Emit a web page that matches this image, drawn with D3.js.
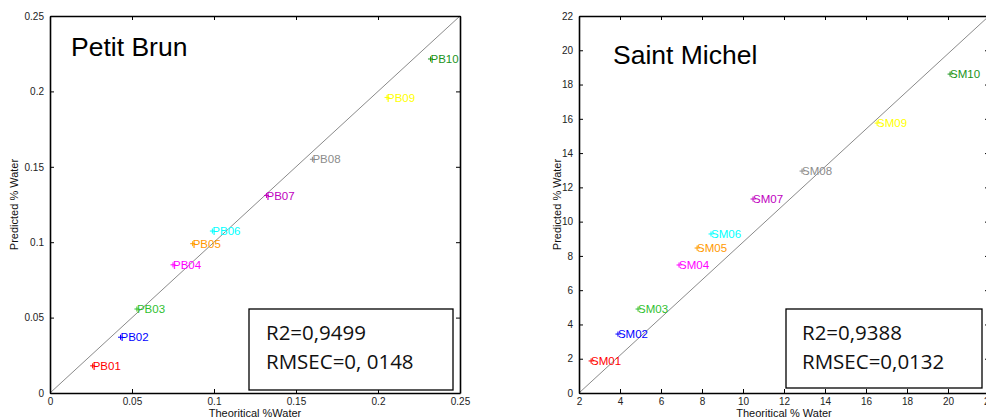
<!DOCTYPE html>
<html><head><meta charset="utf-8">
<script src="https://cdn.jsdelivr.net/npm/d3@7"></script>
<style>
body{margin:0;background:#fff;overflow:hidden}
svg{display:block}
text{font-family:"Liberation Sans",Arial,sans-serif}
</style></head><body>
<svg id="c" width="986" height="419"></svg>
<script>
// ---- Data ----
const pbLabels = ["PB01","PB02","PB03","PB04","PB05","PB06","PB07","PB08","PB09","PB10"];
const pbTheoretical = [0.026,0.043,0.053,0.075,0.087,0.099,0.132,0.160,0.2055,0.232];
const pbPredicted   = [0.018,0.037,0.0557,0.085,0.099,0.1074,0.131,0.155,0.196,0.2215];
const pbXTicks = [0,0.05,0.1,0.15,0.2,0.25];
const pbYTicks = [0,0.05,0.1,0.15,0.2,0.25];

const smLabels = ["SM01","SM02","SM03","SM04","SM05","SM06","SM07","SM08","SM09","SM10"];
const smTheoretical = [2.59,3.90,4.88,6.88,7.76,8.44,10.49,12.88,16.54,20.1];
const smPredicted   = [1.87,3.44,4.90,7.47,8.46,9.28,11.32,12.95,15.75,18.61];
const smXTicks = [2,4,6,8,10,12,14,16,18,20,22];
const smYTicks = [0,2,4,6,8,10,12,14,16,18,20,22];

const pointColors = ["#ff0000","#0000ff","#2fbf2f","#ff00ff","#ff9900","#00ffff","#c000c0","#8c8c8c","#ffff00","#1a931a"];

const svg = d3.select("#c");

function panel(o){
  const g = svg.append("g");
  const x = d3.scaleLinear().domain(o.xDomain).range([o.left,o.right]);
  const y = d3.scaleLinear().domain(o.yDomain).range([o.bottom,o.top]);
  const fmt = o.fmt;
  // diagonal
  g.append("line")
    .attr("x1",x(o.xDomain[0])).attr("y1",y(o.yDomain[0]))
    .attr("x2",x(o.xDomain[1])).attr("y2",y(o.yDomain[1]))
    .attr("stroke","#8a8a8a").attr("stroke-width",1);
  // axes
  const ax = (gen, tr) => {
    const a = g.append("g").attr("transform",tr).call(gen);
    a.select(".domain").attr("stroke","#000").attr("stroke-width",1.6);
    a.selectAll(".tick line").attr("stroke","#000");
    a.selectAll("text").attr("fill","#222").style("font-size","10px");
    return a;
  };
  ax(d3.axisBottom(x).tickValues(o.xTicks).tickSizeInner(-4).tickSizeOuter(0).tickPadding(5).tickFormat(fmt),
     `translate(0,${o.bottom})`);
  ax(d3.axisLeft(y).tickValues(o.yTicks).tickSizeInner(-4).tickSizeOuter(0).tickPadding(6).tickFormat(fmt),
     `translate(${o.left},0)`);
  ax(d3.axisTop(x).tickValues(o.xTicks).tickSizeInner(-4).tickSizeOuter(0).tickFormat(""),
     `translate(0,${o.top})`);
  ax(d3.axisRight(y).tickValues(o.yTicks).tickSizeInner(-4).tickSizeOuter(0).tickFormat(""),
     `translate(${o.right},0)`);
  // axis labels
  g.append("text").attr("x",(o.left+o.right)/2).attr("y",417).attr("text-anchor","middle")
    .style("font-size","11px").attr("fill","#111").text(o.xLabel);
  g.append("text").attr("transform",`translate(${o.yLabelX},${(o.top+o.bottom)/2}) rotate(-90)`)
    .attr("text-anchor","middle").style("font-size","11px").attr("fill","#111").text(o.yLabel);
  // title
  g.append("text").attr("x",o.titleX).attr("y",o.titleY).style("font-size","26.5px").attr("fill","#000").text(o.title);
  // points
  const pts = g.selectAll("g.pt").data(o.labels.map((l,i)=>({l,xv:o.xs[i],yv:o.ys[i],c:pointColors[i]})))
    .enter().append("g").attr("transform",d=>`translate(${x(d.xv)},${y(d.yv)})`);
  pts.append("path").attr("d","M-2.5,0H2.5M0,-2.5V2.5").attr("stroke",d=>d.c).attr("stroke-width",1);
  pts.append("text").attr("x",0).attr("dy","0.36em").style("font-size","11.5px").attr("fill",d=>d.c).text(d=>d.l);
  // stats box
  g.append("rect").attr("x",o.box[0]).attr("y",o.box[1]).attr("width",o.box[2]).attr("height",o.box[3])
    .attr("fill","#fff").attr("stroke","#000").attr("stroke-width",1.3);
  o.stats.forEach((s,i)=>{
    g.append("text").attr("x",o.box[0]+o.textDx).attr("y",340+i*28.5)
      .style("font-family","'Open Sans',Lato,sans-serif").style("font-size","20.5px").attr("fill","#111").text(s);
  });
}

panel({xDomain:[0,0.25],yDomain:[0,0.25],left:50,right:460,top:16,bottom:393,
  xTicks:pbXTicks,yTicks:pbYTicks,fmt:d=>d3.format("~g")(d),
  xLabel:"Theoritical %Water",yLabel:"Predicted % Water",yLabelX:18,
  title:"Petit Brun",titleX:71,titleY:56,
  labels:pbLabels,xs:pbTheoretical,ys:pbPredicted,
  box:[249,309,204,81],textDx:17,stats:["R2=0,9499","RMSEC=0, 0148"]});

panel({xDomain:[2,22],yDomain:[0,22],left:579,right:989,top:16,bottom:393,
  xTicks:smXTicks,yTicks:smYTicks,fmt:d=>d,
  xLabel:"Theoritical % Water",yLabel:"Predicted % Water",yLabelX:561,
  title:"Saint Michel",titleX:613,titleY:64,
  labels:smLabels,xs:smTheoretical,ys:smPredicted,
  box:[786,309,196,79],textDx:16,stats:["R2=0,9388","RMSEC=0,0132"]});
</script>
</body></html>
